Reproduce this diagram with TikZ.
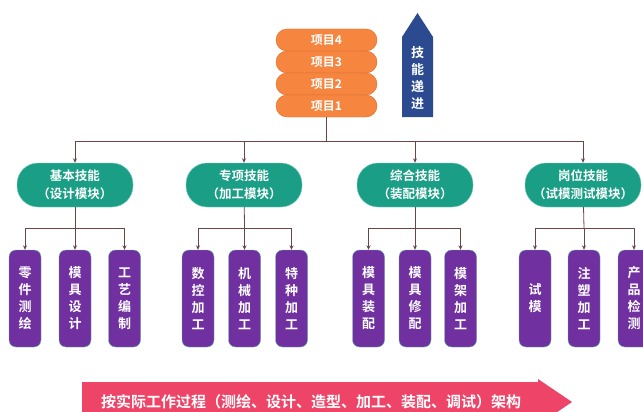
\documentclass[tikz,border=0pt]{standalone}
\usepackage{fontspec}
\newfontfamily\cjk{Noto Sans CJK SC}[BoldFont={Noto Sans CJK SC Bold}]
\usepackage{tikz}
\usetikzlibrary{arrows.meta}

\definecolor{projorange}{HTML}{F5853F}
\definecolor{projedge}{HTML}{D96D2A}
\definecolor{skillblue}{HTML}{2B4A90}
\definecolor{modgreen}{HTML}{1A9E86}
\definecolor{modedge}{HTML}{7FCFC0}
\definecolor{taskpurple}{HTML}{7030A0}
\definecolor{taskedge}{HTML}{5CB8B2}
\definecolor{bannerpink}{HTML}{EE4468}
\definecolor{linkbrown}{HTML}{6B4646}

\tikzset{
  project/.style={draw=projedge, fill=projorange, rounded corners=11pt, minimum width=101pt,
    minimum height=22pt, inner sep=0pt, text=white, font=\cjk\bfseries\fontsize{12}{14}\selectfont},
  module/.style={draw=modedge, fill=modgreen, rounded corners=21pt, minimum width=116pt,
    minimum height=44pt, inner sep=0pt, align=center, text=white,
    font=\cjk\bfseries\fontsize{12.5}{18}\selectfont},
  task/.style={draw=taskedge, fill=taskpurple, rounded corners=7pt, minimum width=32pt,
    minimum height=97pt, inner sep=0pt, align=center, text=white,
    font=\cjk\bfseries\fontsize{13}{17}\selectfont},
  link/.style={draw=linkbrown, line width=0.8pt},
  linkarrow/.style={link, -{Stealth[length=4.5pt,width=4pt]}}
}

\begin{document}
\begin{tikzpicture}[x=1pt, y=-1pt]
  \clip (0,0) rectangle (643,412);
  \fill[white] (0,0) rectangle (643,412);

  % stacked projects
  \node[project] (p4) at (326.5,40) {项目4};
  \node[project] (p3) at (326.5,62) {项目3};
  \node[project] (p2) at (326.5,84) {项目2};
  \node[project] (p1) at (326.5,106) {项目1};

  % progression arrow
  \fill[skillblue] (402,117) -- (402,37) -- (417.5,13) -- (433,37) -- (433,117) -- cycle;
  \node[text=white, align=center, font=\cjk\bfseries\fontsize{13}{17.3}\selectfont] (progress) at (417.5,78) {技\\能\\递\\进};

  % skill modules
  \node[module] (basic) at (75,185) {基本技能\\（设计模块）};
  \node[module] (special) at (244,185) {专项技能\\（加工模块）};
  \node[module] (combined) at (415,185) {综合技能\\（装配模块）};
  \node[module] (post) at (583,185) {岗位技能\\（试模测试模块）};

  \coordinate (topbus) at (326.5,141);
  \draw[link] (p1) -- (topbus);
  \draw[linkarrow] (topbus) -| (basic);
  \draw[linkarrow] (topbus) -| (special);
  \draw[linkarrow] (topbus) -| (combined);
  \draw[linkarrow] (topbus) -| (post);

  % tasks
  \node[task] (b1) at (25,298.5) {零\\件\\测\\绘};
  \node[task] (b2) at (75,298.5) {模\\具\\设\\计};
  \node[task] (b3) at (124.5,298.5) {工\\艺\\编\\制};
  \node[task] (s1) at (198,298.5) {数\\控\\加\\工};
  \node[task] (s2) at (244.5,298.5) {机\\械\\加\\工};
  \node[task] (s3) at (291.5,298.5) {特\\种\\加\\工};
  \node[task] (c1) at (368.5,298.5) {模\\具\\装\\配};
  \node[task] (c2) at (415,298.5) {模\\具\\修\\配};
  \node[task] (c3) at (460.5,298.5) {模\\架\\加\\工};
  \node[task] (q1) at (535,298.5) {试\\模};
  \node[task] (q2) at (584,298.5) {注\\塑\\加\\工};
  \node[task] (q3) at (634,298.5) {产\\品\\检\\测};

  \coordinate (bbus) at (75,228);
  \draw[link] (basic) -- (bbus);
  \draw[linkarrow] (bbus) -| (b1);
  \draw[linkarrow] (bbus) -- (b2);
  \draw[linkarrow] (bbus) -| (b3);

  \coordinate (sbus) at (244.5,228);
  \draw[link] (special) -- (sbus);
  \draw[linkarrow] (sbus) -| (s1);
  \draw[linkarrow] (sbus) -- (s2);
  \draw[linkarrow] (sbus) -| (s3);

  \coordinate (cbus) at (415,228);
  \draw[link] (combined) -- (cbus);
  \draw[linkarrow] (cbus) -| (c1);
  \draw[linkarrow] (cbus) -- (c2);
  \draw[linkarrow] (cbus) -| (c3);

  \coordinate (qbus) at (584,228);
  \draw[link] (post) -- (qbus);
  \draw[linkarrow] (qbus) -| (q1);
  \draw[linkarrow] (qbus) -- (q2);
  \draw[linkarrow] (qbus) -| (q3);

  % working process banner
  \fill[bannerpink] (82,382) -- (538,382) -- (538,379) -- (572,402) -- (538,425) -- (82,425) -- cycle;
  \node[text=white, font=\cjk\bfseries\fontsize{15}{18}\selectfont] (process) at (311,402) {按实际工作过程（测绘、设计、造型、加工、装配、调试）架构};
\end{tikzpicture}
\end{document}
